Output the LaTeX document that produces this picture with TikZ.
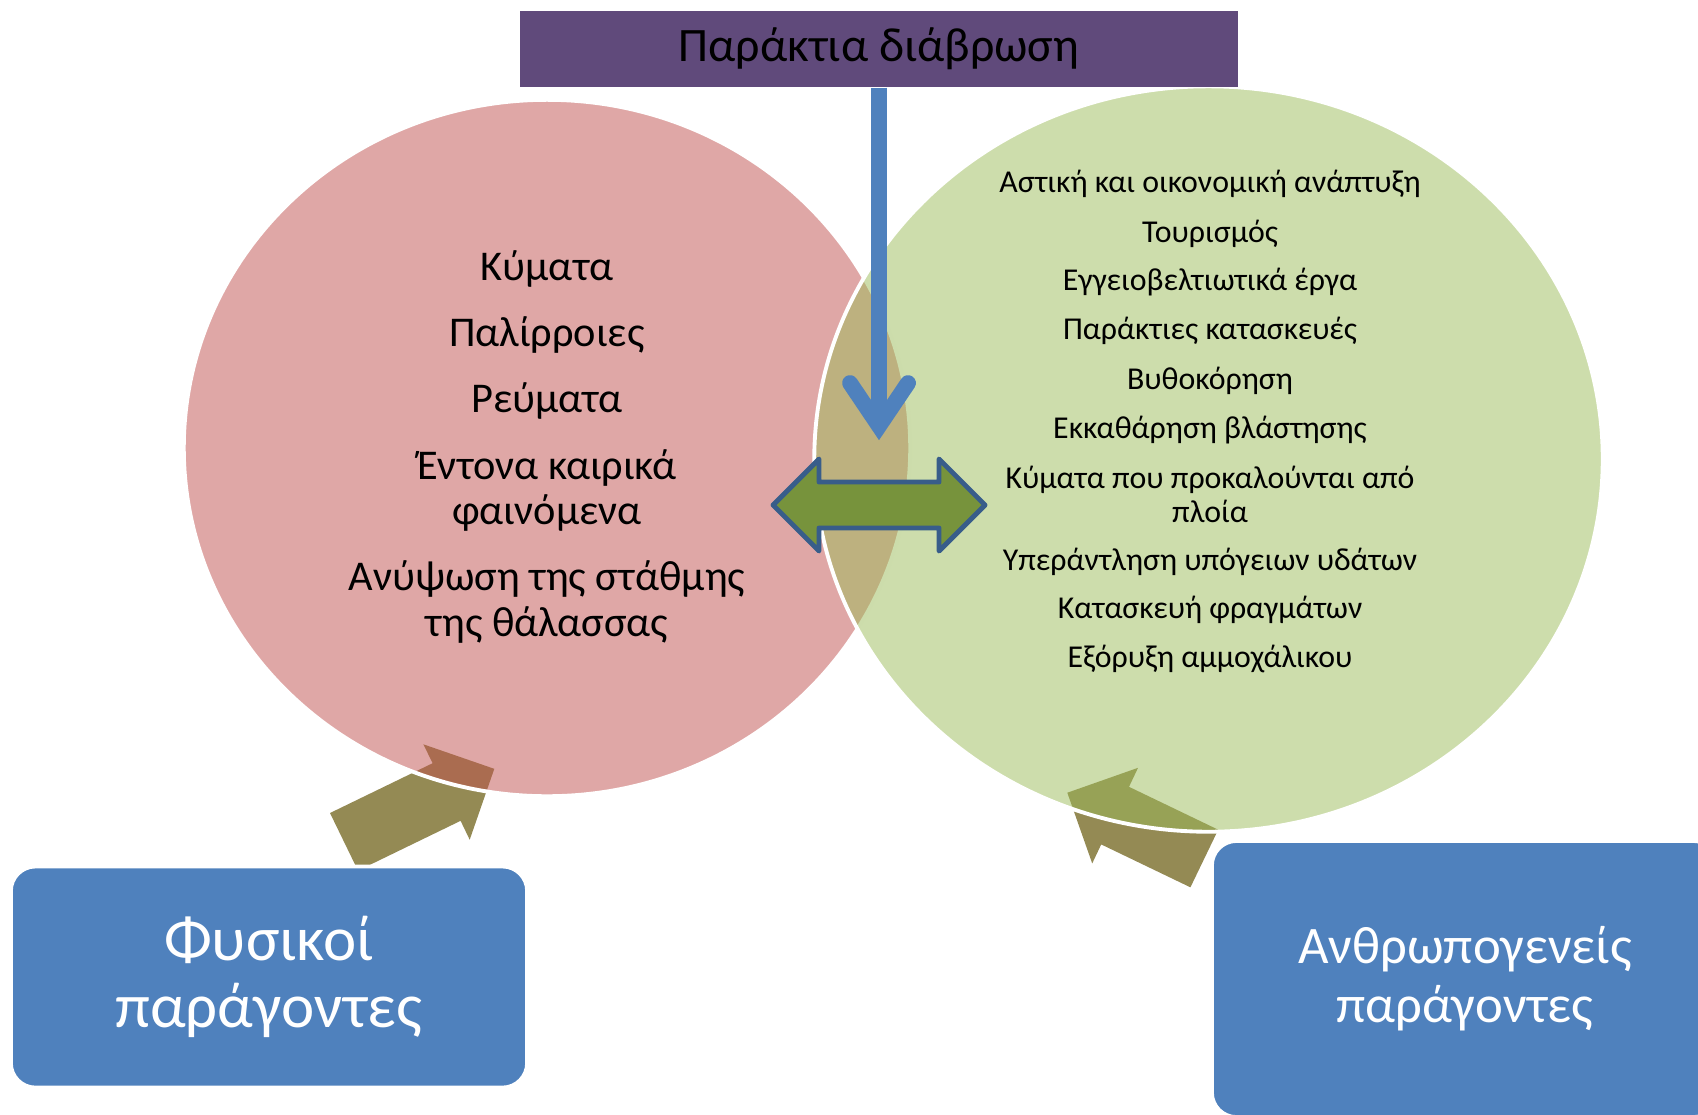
\documentclass[tikz,border=0pt]{standalone}
\usepackage{fontspec}
\setmainfont{Carlito}
\usetikzlibrary{shapes.geometric,positioning,calc}
\definecolor{erosionpurple}{RGB}{96,74,123}
\definecolor{factorblue}{RGB}{79,129,189}
\definecolor{naturalred}{RGB}{192,80,77}
\definecolor{humangreen}{RGB}{155,187,89}
\definecolor{pusholive}{RGB}{148,138,84}
\definecolor{linkgreen}{RGB}{119,147,60}
\definecolor{linkblue}{RGB}{56,93,138}

\begin{document}
\begin{tikzpicture}[x=0.01cm,y=-0.01cm,
	venn/.style={ellipse, draw=white, line width=1.1pt, fill opacity=0.5, inner sep=0pt},
	factor/.style={draw=white, line width=1.1pt, fill=factorblue, rounded corners=7pt, text=white, align=center},
	natitem/.style={font=\fontsize{12.05}{12.95}\selectfont, align=center, inner sep=0pt},
	humitem/.style={font=\fontsize{9.05}{9.87}\selectfont, align=center, inner sep=0pt},
	single/.style={text height=8pt, text depth=2.4pt}]
				\useasboundingbox (0,0) rectangle (1698,1114);
				\clip (0,0) rectangle (1698,1114);
				
				% Pushing arrows (under the circles)
				\fill[pusholive] (330,813) -- (432.6,763.2) -- (423.4,744.3) -- (494.3,768.8) -- (469.7,839.7) -- (460.6,820.8) -- (358,870.6) -- cycle;
				\fill[pusholive] (1067.3,792.7) -- (1138,767.8) -- (1129,786.8) -- (1218.2,829.7) -- (1190.4,887.3) -- (1101.2,844.4) -- (1092.2,863.4) -- cycle;
				
				% Circles
				\node[venn, fill=naturalred, minimum width=7.26cm, minimum height=6.96cm] (natural) at (547,448) {};
				\node[venn, fill=humangreen, minimum width=7.88cm, minimum height=7.45cm] (human) at (1208.5,459) {};
				
				% Title
				\node[fill=erosionpurple, minimum width=7.18cm, minimum height=0.76cm, font=\fontsize{13.65}{16}\selectfont] (title) at (879,49) {Παράκτια διάβρωση};
				
				% Down arrow
				\coordinate (dnTip) at (879,426);
				\draw[factorblue, line width=4.5pt] (title.south) -- (dnTip);
				\draw[factorblue, line width=4.5pt, line cap=round, line join=miter] (850,383) -- (dnTip) -- (908,383);
				
				% Two way arrow
				\draw[fill=linkgreen, draw=linkblue, line width=1.4pt, line join=round] (773,505) -- (819,459) -- (819,482) -- (939,482) -- (939,459) -- (985,505) -- (939,551) -- (939,528) -- (819,528) -- (819,551) -- cycle;
				
				% Factor boxes
				\node[factor, minimum width=5.16cm, minimum height=2.21cm, font=\fontsize{17.9}{19}\selectfont] (natbox) at (269,977) {Φυσικοί\\παράγοντες};
				\node[factor, minimum width=5.06cm, minimum height=2.76cm, font=\fontsize{15}{16.8}\selectfont] (humbox) at (1465,979) {Ανθρωπογενείς\\παράγοντες};
				
				% Natural factors
				\node[natitem, single] (waves) at (547,271) {Κύματα};
				\node[natitem, single] (tides) at (547,337) {Παλίρροιες};
				\node[natitem, single] (currents) at (547,403) {Ρεύματα};
				\node[natitem] (storms) at (547,490.5) {Έντονα καιρικά\\φαινόμενα};
				\node[natitem] (sealevel) at (547,602) {Ανύψωση της στάθμης\\της θάλασσας};
				
				% Human factors
				\node[humitem, single] (urban) at (1210,182.5) {Αστική και οικονομική ανάπτυξη};
				\node[humitem, single] (tourism) at (1210,232.3) {Τουρισμός};
				\node[humitem, single] (landworks) at (1210,281) {Εγγειοβελτιωτικά έργα};
				\node[humitem, single] (coastworks) at (1210,329.7) {Παράκτιες κατασκευές};
				\node[humitem, single] (dredging) at (1210,379.5) {Βυθοκόρηση};
				\node[humitem, single] (clearing) at (1210,428.3) {Εκκαθάρηση βλάστησης};
				\node[humitem] (shipwaves) at (1210,494.4) {Κύματα που προκαλούνται από\\πλοία};
				\node[humitem, single] (pumping) at (1210,560.4) {Υπεράντληση υπόγειων υδάτων};
				\node[humitem, single] (dams) at (1210,609.1) {Κατασκευή φραγμάτων};
				\node[humitem, single] (mining) at (1210,657.8) {Εξόρυξη αμμοχάλικου};
			\end{tikzpicture}
\end{document}
